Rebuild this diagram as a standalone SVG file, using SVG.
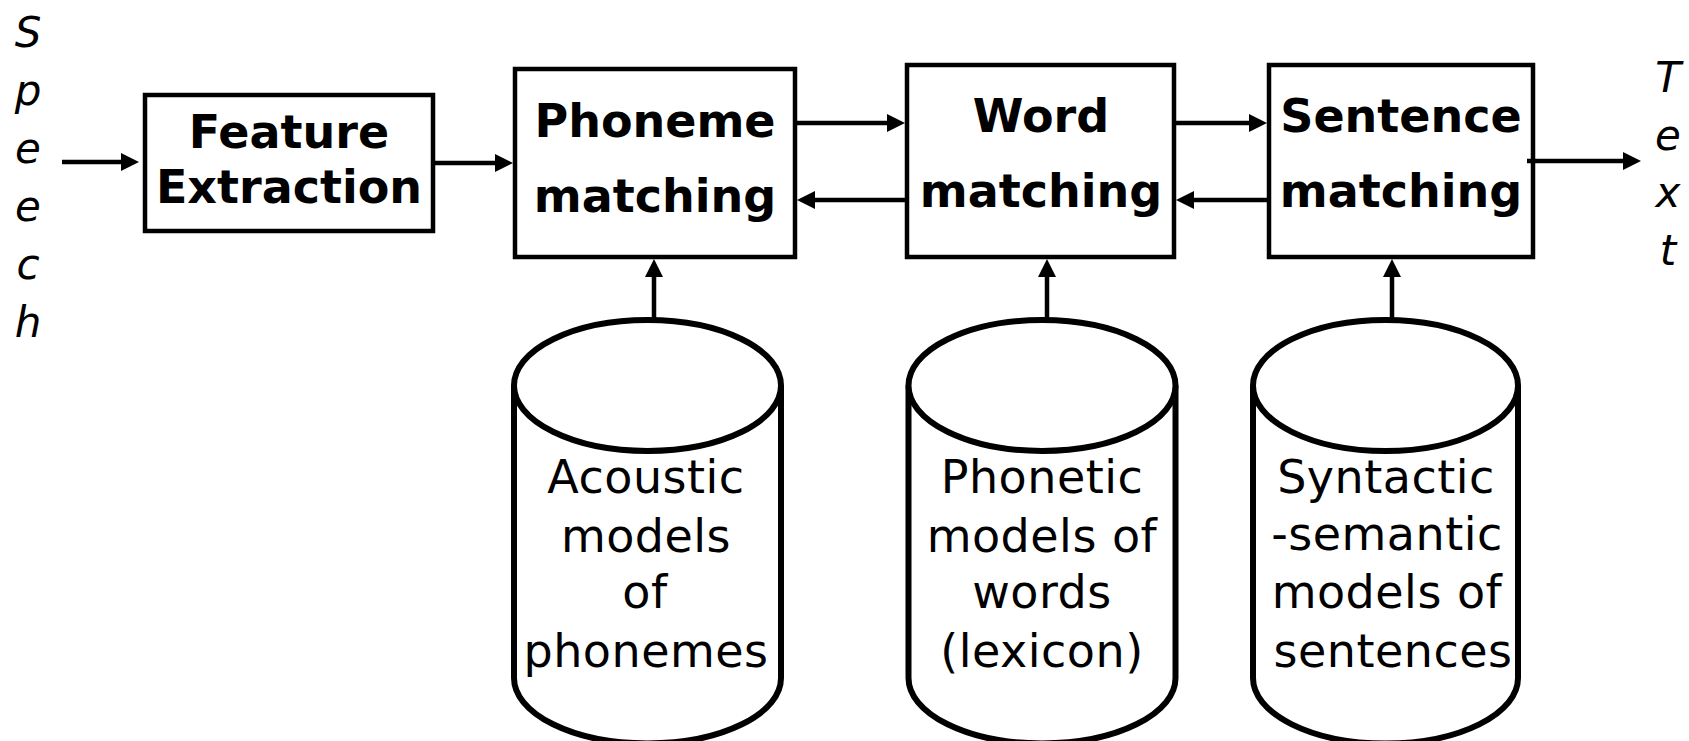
<svg xmlns="http://www.w3.org/2000/svg" width="1689" height="741" viewBox="0 0 1689 741">
<defs>
<style>
.box{fill:#fff;stroke:#000;stroke-width:4.5}
.cyl{fill:#fff;stroke:#000;stroke-width:6}
.con{fill:none;stroke:#000;stroke-width:4.5}
.bt{font-family:"DejaVu Sans",sans-serif;font-weight:bold;font-size:46px;text-anchor:middle;fill:#000}
.ct{font-family:"DejaVu Sans",sans-serif;font-size:46px;letter-spacing:0.5px;text-anchor:middle;fill:#000}
.it{font-family:"DejaVu Sans",sans-serif;font-style:italic;font-size:42px;text-anchor:middle;fill:#000}
</style>
<marker id="ah" viewBox="0 0 18 18" refX="0" refY="9" markerWidth="18" markerHeight="18" markerUnits="userSpaceOnUse" orient="auto">
<path d="M0,0 L18,9 L0,18 z" fill="#000"/>
</marker>
</defs>
<g id="speech">
<text class="it" x="28" y="47">S</text>
<text class="it" x="28" y="105">p</text>
<text class="it" x="28" y="163">e</text>
<text class="it" x="28" y="221">e</text>
<text class="it" x="28" y="279">c</text>
<text class="it" x="28" y="337">h</text>
</g>
<g id="text-out">
<text class="it" x="1668" y="92">T</text>
<text class="it" x="1668" y="150">e</text>
<text class="it" x="1668" y="207">x</text>
<text class="it" x="1668" y="265">t</text>
</g>
<g id="feature">
<rect class="box" x="145" y="95" width="288" height="136"/>
<text class="bt" x="289" y="148">Feature</text>
<text class="bt" x="289" y="203">Extraction</text>
</g>
<g id="phoneme">
<rect class="box" x="515" y="69" width="280" height="188"/>
<text class="bt" x="655" y="137">Phoneme</text>
<text class="bt" x="655" y="212">matching</text>
</g>
<g id="word">
<rect class="box" x="907" y="65" width="267" height="192"/>
<text class="bt" x="1041" y="132">Word</text>
<text class="bt" x="1041" y="207">matching</text>
</g>
<g id="sentence">
<rect class="box" x="1269" y="65" width="264" height="192"/>
<text class="bt" x="1401" y="132">Sentence</text>
<text class="bt" x="1401" y="207">matching</text>
</g>
<g id="acoustic">
<path class="cyl" d="M514,385.5 L514,678 A133.5,65.5 0 0 0 781,678 L781,385.5"/>
<ellipse class="cyl" cx="647.5" cy="385.5" rx="133.5" ry="65.5"/>
<text class="ct" x="646" y="493">Acoustic</text>
<text class="ct" x="646" y="552">models</text>
<text class="ct" x="645" y="608">of</text>
<text class="ct" x="646" y="667">phonemes</text>
</g>
<g id="phonetic">
<path class="cyl" d="M908.5,385.5 L908.5,678 A133.5,65.5 0 0 0 1175.5,678 L1175.5,385.5"/>
<ellipse class="cyl" cx="1042" cy="385.5" rx="133.5" ry="65.5"/>
<text class="ct" x="1042" y="493">Phonetic</text>
<text class="ct" x="1042" y="552">models of</text>
<text class="ct" x="1042" y="608">words</text>
<text class="ct" x="1042" y="667">(lexicon)</text>
</g>
<g id="syntactic">
<path class="cyl" d="M1253,385.5 L1253,678 A132.5,65.5 0 0 0 1518,678 L1518,385.5"/>
<ellipse class="cyl" cx="1385.5" cy="385.5" rx="132.5" ry="65.5"/>
<text class="ct" x="1386" y="493">Syntactic</text>
<text class="ct" x="1387" y="550">-semantic</text>
<text class="ct" x="1387" y="608">models of</text>
<text class="ct" x="1393" y="667">sentences</text>
</g>
<g id="connectors">
<line class="con" x1="62" y1="162" x2="121" y2="162" marker-end="url(#ah)"/>
<line class="con" x1="435" y1="163" x2="495" y2="163" marker-end="url(#ah)"/>
<line class="con" x1="797" y1="123" x2="887" y2="123" marker-end="url(#ah)"/>
<line class="con" x1="905" y1="200" x2="815" y2="200" marker-end="url(#ah)"/>
<line class="con" x1="1176" y1="123" x2="1249" y2="123" marker-end="url(#ah)"/>
<line class="con" x1="1267" y1="200" x2="1194" y2="200" marker-end="url(#ah)"/>
<line class="con" x1="1527" y1="161" x2="1623" y2="161" marker-end="url(#ah)"/>
<line class="con" x1="654" y1="320" x2="654" y2="277" marker-end="url(#ah)"/>
<line class="con" x1="1047" y1="320" x2="1047" y2="277" marker-end="url(#ah)"/>
<line class="con" x1="1392" y1="320" x2="1392" y2="277" marker-end="url(#ah)"/>
</g>
</svg>
